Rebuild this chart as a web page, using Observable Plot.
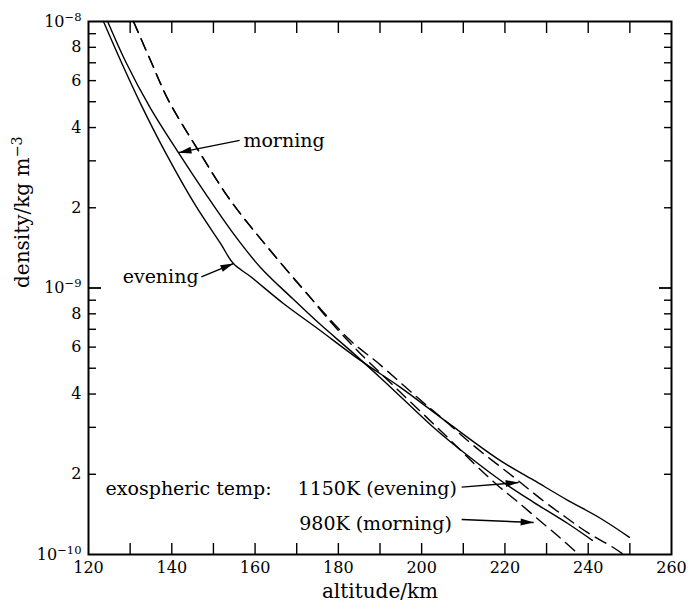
<!DOCTYPE html>
<html><head><meta charset="utf-8">
<script src="https://cdn.jsdelivr.net/npm/d3@7"></script>
<script src="https://cdn.jsdelivr.net/npm/@observablehq/plot@0.6"></script>
<style>
html,body{margin:0;padding:0;background:#fff;}
</style>
</head><body><div id="chart"></div>
<script>
// ---- data (altitude in km, density in kg m^-3) ----
const eveningAlt = [123.6, 127.7, 132.5, 138.5, 145.7, 151.7, 154.8, 158.9, 166.8, 175.0, 185.3, 194.9, 206.9, 218.9, 226.9, 235.0, 243.0, 249.9];
const eveningDensity = [1.0e-8, 7.14e-9, 4.92e-9, 3.22e-9, 2.04e-9, 1.47e-9, 1.235e-9, 1.104e-9, 8.75e-10, 7.05e-10, 5.35e-10, 4.24e-10, 3.07e-10, 2.25e-10, 1.90e-10, 1.60e-10, 1.365e-10, 1.16e-10];

const morningAlt = [124.6, 128.9, 134.9, 141.6, 148.1, 154.8, 161.3, 169.0, 175.7, 182.9, 190.8, 202.6, 206.9, 218.9, 226.9, 235.0, 241.0];
const morningDensity = [1.0e-8, 7.08e-9, 4.72e-9, 3.22e-9, 2.26e-9, 1.60e-9, 1.194e-9, 9.13e-10, 7.29e-10, 5.82e-10, 4.50e-10, 3.02e-10, 2.65e-10, 1.90e-10, 1.57e-10, 1.31e-10, 1.13e-10];

const model1150Alt = [130.8, 134.9, 139.2, 146.4, 154.1, 163.7, 173.3, 182.9, 189.4, 199.0, 205.0, 212.5, 222.5, 229.0, 234.6, 239.8, 246.1, 248.5];
const model1150Density = [1.0e-8, 7.14e-9, 5.06e-9, 3.28e-9, 2.13e-9, 1.38e-9, 9.20e-10, 6.35e-10, 5.25e-10, 3.88e-10, 3.24e-10, 2.56e-10, 1.93e-10, 1.60e-10, 1.38e-10, 1.21e-10, 1.06e-10, 1.0e-10];

const model980Alt = [130.8, 134.9, 139.2, 146.4, 154.1, 163.7, 173.3, 177.4, 184.6, 194.9, 204.5, 212.5, 218.2, 223.0, 228.6, 233.4, 237.7];
const model980Density = [1.0e-8, 7.14e-9, 5.06e-9, 3.28e-9, 2.13e-9, 1.38e-9, 9.20e-10, 7.69e-10, 5.82e-10, 4.06e-10, 2.92e-10, 2.20e-10, 1.82e-10, 1.58e-10, 1.33e-10, 1.15e-10, 1.0e-10];

// ---- ticks ----
const xMinorTicks = [130, 140, 150, 160, 170, 180, 190, 200, 210, 220, 230, 240, 250];
const xLabelValues = [120, 140, 160, 180, 200, 220, 240, 260];
const xLabels = ["120", "140", "160", "180", "200", "220", "240", "260"];
const yMinorTicks = [9e-9, 8e-9, 7e-9, 6e-9, 5e-9, 4e-9, 3e-9, 2e-9, 9e-10, 8e-10, 7e-10, 6e-10, 5e-10, 4e-10, 3e-10, 2e-10];
const yMajorTicks = [1e-9];
const yLabelValues = [1e-8, 8e-9, 6e-9, 4e-9, 2e-9, 1e-9, 8e-10, 6e-10, 4e-10, 2e-10, 1e-10];
const yLabels = ["10^-8", "8", "6", "4", "2", "10^-9", "8", "6", "4", "2", "10^-10"];

// ---- annotations ----
const labelTexts = ["morning", "evening", "exospheric temp:", "1150K (evening)", "980K (morning)"];
const labelAlt = [157.2, 128.2, 124.1, 170.2, 170.6];
const labelDensity = [3.55e-9, 1.104e-9, 1.769e-10, 1.769e-10, 1.307e-10];

const arrowFromAlt = [156.3, 147.1, 209.6, 209.6];
const arrowFromDensity = [3.58e-9, 1.10e-9, 1.79e-10, 1.353e-10];
const arrowToAlt = [141.6, 154.8, 223.3, 226.9];
const arrowToDensity = [3.22e-9, 1.235e-9, 1.863e-10, 1.318e-10];

// ---- build tables ----
const rows = (alt, den) => alt.map((a, i) => ({alt: a, density: den[i]}));
const evening = rows(eveningAlt, eveningDensity);
const morning = rows(morningAlt, morningDensity);
const m1150 = rows(model1150Alt, model1150Density);
const m980 = rows(model980Alt, model980Density);
const labels = labelTexts.map((t, i) => ({text: t, alt: labelAlt[i], density: labelDensity[i]}));

const W = 688, H = 613, ML = 88, MR = 17, MT = 21, MB = 59;
const xDomain = [120, 260], yDomain = [1e-10, 1e-8];
const xs = Plot.scale({x: {type: "linear", domain: xDomain, range: [ML, W - MR]}});
const ys = Plot.scale({y: {type: "log", domain: yDomain, range: [H - MB, MT]}});
const arrows = arrowFromAlt.map((a, i) => {
  const dx = xs.apply(arrowToAlt[i]) - xs.apply(a);
  const dy = ys.apply(arrowToDensity[i]) - ys.apply(arrowFromDensity[i]);
  return {x1: a, y1: arrowFromDensity[i], x2: arrowToAlt[i], y2: arrowToDensity[i],
          angle: Math.atan2(dy, dx) * 180 / Math.PI};
});
const arrowHead = {draw(ctx) { ctx.moveTo(0, 0); ctx.lineTo(-13, -3.5); ctx.lineTo(-13, 3.5); ctx.closePath(); }};

const xLab = d => xLabels[xLabelValues.indexOf(d)];
const yLab = d => yLabels[yLabelValues.indexOf(d)];

const chart = Plot.plot({
  width: W, height: H,
  marginLeft: ML, marginRight: MR, marginTop: MT, marginBottom: MB,
  style: {fontFamily: "'DejaVu Serif', serif", fontSize: "16px", color: "black", background: "white"},
  x: {domain: xDomain},
  y: {type: "log", domain: yDomain},
  marks: [
    Plot.axisX(xMinorTicks, {anchor: "bottom", tickSize: -11, tickFormat: () => "", label: null, strokeWidth: 1.4}),
    Plot.axisX(xMinorTicks, {anchor: "top", tickSize: -11, tickFormat: () => "", label: null, strokeWidth: 1.4}),
    Plot.axisX(xLabelValues, {anchor: "bottom", tickSize: 0, tickPadding: 7, tickFormat: xLab, label: null}),
    Plot.axisY(yMinorTicks, {anchor: "left", tickSize: -8, tickFormat: () => "", label: null, strokeWidth: 1.4}),
    Plot.axisY(yMinorTicks, {anchor: "right", tickSize: -8, tickFormat: () => "", label: null, strokeWidth: 1.4}),
    Plot.axisY(yMajorTicks, {anchor: "left", tickSize: -13, tickFormat: () => "", label: null, strokeWidth: 1.8}),
    Plot.axisY(yMajorTicks, {anchor: "right", tickSize: -13, tickFormat: () => "", label: null, strokeWidth: 1.8}),
    Plot.axisY(yLabelValues, {anchor: "left", tickSize: 0, tickPadding: 7, tickFormat: yLab, label: null}),
    Plot.line(evening, {x: "alt", y: "density", curve: "catmull-rom", stroke: "black", strokeWidth: 1.4}),
    Plot.line(morning, {x: "alt", y: "density", curve: "catmull-rom", stroke: "black", strokeWidth: 1.4}),
    Plot.line(m1150, {x: "alt", y: "density", curve: "catmull-rom", stroke: "black", strokeWidth: 1.4, strokeDasharray: "12,7"}),
    Plot.line(m980, {x: "alt", y: "density", curve: "catmull-rom", stroke: "black", strokeWidth: 1.4, strokeDasharray: "12,7"}),
    Plot.link(arrows, {x1: "x1", y1: "y1", x2: "x2", y2: "y2", stroke: "black", strokeWidth: 1.4}),
    Plot.dot(arrows, {x: "x2", y: "y2", symbol: arrowHead, rotate: "angle", fill: "black", stroke: "none"}),
    Plot.text(labels, {x: "alt", y: "density", text: "text", textAnchor: "start", fontSize: 19}),
    Plot.text(["altitude/km"], {frameAnchor: "bottom", dy: 43, fontSize: 20}),
    Plot.text(["density/kg m^-3"], {frameAnchor: "left", dx: -66, rotate: -90, fontSize: 20}),
    Plot.frame({stroke: "black", strokeWidth: 2})
  ]
});

// superscripts for powers of ten and units
d3.select(chart).selectAll("text").each(function () {
  const t = this.textContent;
  const m = t.match(/^(.*)\^(.+)$/);
  if (!m) return;
  const sel = d3.select(this);
  sel.text(null);
  sel.append("tspan").text(m[1]);
  sel.append("tspan").attr("dy", "-0.5em").attr("font-size", "0.72em").text(m[2].replace("-", "\u2212"));
});

document.getElementById("chart").appendChild(chart);
</script>
</body></html>
